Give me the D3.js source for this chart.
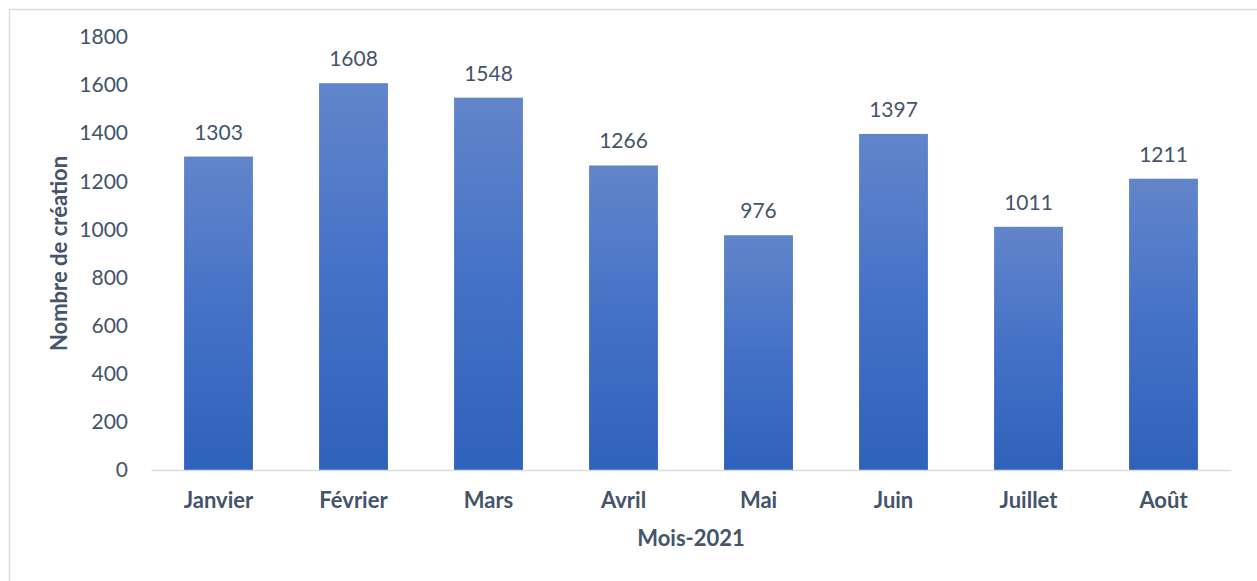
<!DOCTYPE html>
<html>
<head>
<meta charset="utf-8">
<script src="https://cdn.jsdelivr.net/npm/d3@7"></script>
<style>
  html, body { margin: 0; padding: 0; background: #ffffff; }
  svg { display: block; }
</style>
</head>
<body>
<svg id="chart" width="1257" height="581"></svg>
<script>
const months = ["Janvier", "Février", "Mars", "Avril", "Mai", "Juin", "Juillet", "Août"];
const values = [1303, 1608, 1548, 1266, 976, 1397, 1011, 1211];
const yTicks = [0, 200, 400, 600, 800, 1000, 1200, 1400, 1600, 1800];
const xTitle = "Mois-2021";
const yTitle = "Nombre de création";

const W = 1257, H = 581;
const margin = { left: 151, right: 26, top: 37, bottom: 111 };
const textColor = "#44546a";
const font = "Lato, 'Open Sans', sans-serif";

const svg = d3.select("#chart");

// outer border (chart area frame)
svg.append("rect")
  .attr("x", 9.5).attr("y", 9.5)
  .attr("width", W).attr("height", H)
  .attr("fill", "#ffffff")
  .attr("stroke", "#d9dde3")
  .attr("stroke-width", 1.5);

const defs = svg.append("defs");
const grad = defs.append("linearGradient")
  .attr("id", "barGrad")
  .attr("x1", 0).attr("y1", 0).attr("x2", 0).attr("y2", 1);
grad.append("stop").attr("offset", "0%").attr("stop-color", "#6285ca");
grad.append("stop").attr("offset", "50%").attr("stop-color", "#4471c7");
grad.append("stop").attr("offset", "100%").attr("stop-color", "#2f62bb");

const x = d3.scaleBand()
  .domain(months)
  .range([margin.left, W - margin.right])
  .paddingInner(0.49)
  .paddingOuter(0.245);

const y = d3.scaleLinear()
  .domain([0, 1800])
  .range([H - margin.bottom, margin.top]);

// bars
svg.append("g").selectAll("rect")
  .data(months.map((m, i) => ({ m, v: values[i] })))
  .join("rect")
  .attr("x", d => x(d.m))
  .attr("y", d => y(d.v))
  .attr("width", x.bandwidth())
  .attr("height", d => y(0) - y(d.v))
  .attr("fill", "url(#barGrad)");

// data labels
svg.append("g").selectAll("text")
  .data(months.map((m, i) => ({ m, v: values[i] })))
  .join("text")
  .attr("x", d => x(d.m) + x.bandwidth() / 2)
  .attr("y", d => y(d.v) - 17)
  .attr("text-anchor", "middle")
  .attr("font-family", font)
  .attr("font-size", 21)
  .attr("fill", textColor)
  .text(d => d.v);

// x axis
const xAxis = svg.append("g")
  .attr("transform", `translate(0,${y(0)})`)
  .call(d3.axisBottom(x).tickSize(0).tickPadding(22));
xAxis.select(".domain").attr("stroke", "#d9dde3").attr("stroke-width", 1.5);
xAxis.selectAll("text")
  .attr("font-family", font)
  .attr("font-size", 22)
  .attr("font-weight", "bold")
  .attr("fill", textColor);

// y axis
const yAxis = svg.append("g")
  .attr("transform", `translate(${margin.left},0)`)
  .call(d3.axisLeft(y).tickValues(yTicks).tickFormat(d3.format("d")).tickSize(0).tickPadding(23));
yAxis.select(".domain").remove();
yAxis.selectAll("text")
  .attr("font-family", font)
  .attr("font-size", 21)
  .attr("fill", textColor);

// axis titles
svg.append("text")
  .attr("x", (margin.left + W - margin.right) / 2)
  .attr("y", 546)
  .attr("text-anchor", "middle")
  .attr("font-family", font)
  .attr("font-size", 22)
  .attr("font-weight", "bold")
  .attr("fill", textColor)
  .text(xTitle);

svg.append("text")
  .attr("transform", `translate(67,${(y(0) + y(1800)) / 2}) rotate(-90)`)
  .attr("text-anchor", "middle")
  .attr("font-family", font)
  .attr("font-size", 22)
  .attr("font-weight", "bold")
  .attr("fill", textColor)
  .text(yTitle);
</script>
</body>
</html>
